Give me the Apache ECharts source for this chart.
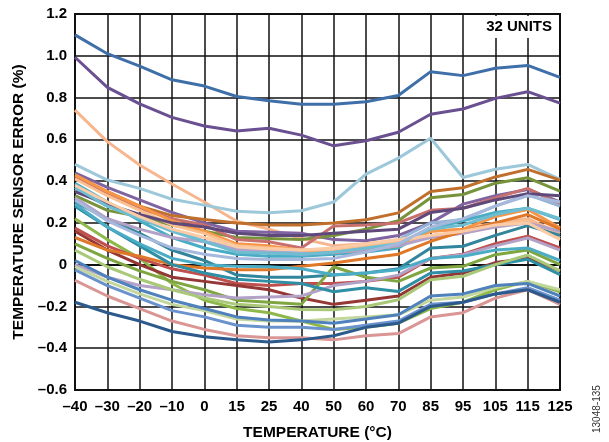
<!DOCTYPE html>
<html>
<head>
<meta charset="utf-8">
<script src="https://cdn.jsdelivr.net/npm/echarts@6/dist/echarts.min.js"></script>
<style>
html,body{margin:0;padding:0;background:#fff;}
#chart{width:609px;height:442px;}
</style>
</head>
<body>
<div id="chart"></div>
<script>
// Temperature categories (°C)
const temperatures = [-40, -30, -20, -10, 0, 15, 25, 40, 50, 60, 70, 85, 95, 105, 115, 125];

// Y-axis ticks (%)
const yTicks = [-0.6, -0.4, -0.2, 0, 0.2, 0.4, 0.6, 0.8, 1.0, 1.2];

// Sensor error (%) per unit
const unit01 = [1.10, 1.01, 0.95, 0.885, 0.855, 0.805, 0.785, 0.768, 0.768, 0.78, 0.81, 0.924, 0.905, 0.94, 0.954, 0.897];
const unit02 = [0.993, 0.849, 0.77, 0.705, 0.664, 0.64, 0.653, 0.62, 0.569, 0.593, 0.634, 0.72, 0.745, 0.796, 0.828, 0.773];
const unit03 = [0.74, 0.589, 0.477, 0.386, 0.30, 0.208, 0.17, 0.125, 0.09, 0.10, 0.11, 0.16, 0.17, 0.20, 0.22, 0.15];
const unit04 = [0.48, 0.405, 0.365, 0.313, 0.285, 0.256, 0.248, 0.258, 0.30, 0.433, 0.51, 0.605, 0.417, 0.457, 0.48, 0.408];
const unit05 = [0.44, 0.37, 0.31, 0.25, 0.20, 0.16, 0.155, 0.15, 0.12, 0.115, 0.14, 0.20, 0.29, 0.33, 0.36, 0.30];
const unit06 = [0.42, 0.35, 0.28, 0.235, 0.216, 0.20, 0.19, 0.19, 0.20, 0.215, 0.248, 0.35, 0.368, 0.42, 0.456, 0.405];
const unit07 = [0.33, 0.26, 0.23, 0.19, 0.16, 0.13, 0.125, 0.12, 0.14, 0.17, 0.21, 0.32, 0.336, 0.39, 0.416, 0.352];
const unit08 = [0.42, 0.34, 0.27, 0.22, 0.19, 0.12, 0.11, 0.08, 0.185, 0.19, 0.20, 0.26, 0.27, 0.32, 0.365, 0.29];
const unit09 = [0.36, 0.28, 0.22, 0.17, 0.112, 0.08, 0.07, 0.06, 0.08, 0.09, 0.12, 0.20, 0.216, 0.28, 0.336, 0.28];
const unit10 = [0.39, 0.30, 0.21, 0.13, 0.08, 0.05, 0.04, 0.04, 0.05, 0.06, 0.08, 0.17, 0.21, 0.25, 0.27, 0.216];
const unit11 = [0.43, 0.35, 0.28, 0.21, 0.16, 0.10, 0.09, 0.07, 0.06, 0.07, 0.09, 0.16, 0.17, 0.23, 0.264, 0.176];
const unit12 = [0.41, 0.33, 0.26, 0.19, 0.15, 0.09, 0.08, 0.07, 0.07, 0.09, 0.11, 0.14, 0.15, 0.19, 0.21, 0.13];
const unit13 = [0.30, 0.22, 0.15, 0.07, 0.02, -0.05, -0.06, -0.06, -0.05, -0.04, -0.02, 0.08, 0.088, 0.14, 0.187, 0.14];
const unit14 = [0.32, 0.22, 0.17, 0.13, 0.11, 0.07, 0.06, 0.05, 0.06, 0.07, 0.09, 0.13, 0.15, 0.18, 0.20, 0.16];
const unit15 = [0.22, 0.12, 0.03, -0.09, -0.17, -0.21, -0.23, -0.27, -0.31, -0.30, -0.28, -0.21, -0.18, -0.12, -0.08, -0.13];
const unit16 = [0.175, 0.09, 0.03, -0.02, -0.05, -0.09, -0.10, -0.09, -0.09, -0.08, -0.06, 0.03, 0.05, 0.10, 0.136, 0.08];
const unit17 = [0.16, 0.07, 0.0, -0.06, -0.08, -0.10, -0.12, -0.16, -0.19, -0.17, -0.15, -0.06, -0.04, 0.01, 0.03, -0.03];
const unit18 = [0.13, 0.07, 0.04, 0.0, -0.016, -0.024, -0.024, -0.008, 0.008, 0.03, 0.05, 0.112, 0.16, 0.20, 0.24, 0.17];
const unit19 = [0.10, 0.03, -0.03, -0.08, -0.12, -0.17, -0.18, -0.19, -0.01, -0.06, -0.08, -0.016, -0.008, 0.048, 0.07, 0.0];
const unit20 = [0.0, -0.06, -0.10, -0.12, -0.144, -0.16, -0.155, -0.15, -0.10, -0.08, -0.05, 0.03, 0.048, 0.09, 0.128, 0.07];
const unit21 = [0.28, 0.18, 0.09, 0.0, -0.04, -0.07, -0.08, -0.09, -0.13, -0.11, -0.128, -0.04, -0.03, 0.0, 0.026, -0.048];
const unit22 = [-0.01, -0.08, -0.14, -0.19, -0.22, -0.26, -0.27, -0.27, -0.26, -0.25, -0.24, -0.17, -0.155, -0.11, -0.08, -0.12];
const unit23 = [0.02, -0.06, -0.12, -0.17, -0.21, -0.25, -0.265, -0.27, -0.28, -0.26, -0.24, -0.15, -0.14, -0.10, -0.09, -0.15];
const unit24 = [-0.025, -0.10, -0.16, -0.22, -0.25, -0.29, -0.30, -0.30, -0.31, -0.29, -0.27, -0.19, -0.18, -0.14, -0.11, -0.17];
const unit25 = [-0.075, -0.15, -0.21, -0.27, -0.31, -0.34, -0.35, -0.35, -0.36, -0.34, -0.33, -0.25, -0.23, -0.16, -0.12, -0.19];
const unit26 = [-0.18, -0.23, -0.27, -0.32, -0.345, -0.36, -0.37, -0.36, -0.34, -0.30, -0.28, -0.20, -0.18, -0.14, -0.12, -0.18];
const unit27 = [0.07, -0.01, -0.07, -0.12, -0.16, -0.19, -0.20, -0.215, -0.216, -0.20, -0.168, -0.072, -0.056, 0.0, 0.046, -0.03];
const unit28 = [0.29, 0.18, 0.10, 0.03, 0.0, -0.008, -0.01, -0.02, -0.048, -0.04, -0.024, 0.03, 0.04, 0.07, 0.08, 0.02];
const unit29 = [0.35, 0.29, 0.24, 0.20, 0.18, 0.15, 0.14, 0.14, 0.15, 0.16, 0.17, 0.25, 0.27, 0.31, 0.34, 0.33];
const unit30 = [0.37, 0.28, 0.22, 0.16, 0.11, 0.06, 0.055, 0.05, 0.06, 0.08, 0.10, 0.17, 0.19, 0.24, 0.27, 0.22];
const unit31 = [0.38, 0.30, 0.23, 0.17, 0.13, 0.085, 0.075, 0.07, 0.08, 0.10, 0.12, 0.14, 0.16, 0.19, 0.20, 0.12];
const unit32 = [0.31, 0.21, 0.14, 0.08, 0.05, 0.03, 0.025, 0.025, 0.03, 0.06, 0.10, 0.18, 0.22, 0.28, 0.33, 0.30];

const units = [unit01, unit02, unit03, unit04, unit05, unit06, unit07, unit08, unit09, unit10,
  unit11, unit12, unit13, unit14, unit15, unit16, unit17, unit18, unit19, unit20,
  unit21, unit22, unit23, unit24, unit25, unit26, unit27, unit28, unit29, unit30, unit31, unit32];

const unitColors = ['#3f6fa8', '#6a5090', '#f7b68e', '#9dc8da', '#8064a2', '#c0702c', '#77933c', '#c8706e',
  '#95b3d7', '#4bacc6', '#f79646', '#fac090', '#31859c', '#b3a2c7', '#8fb84a', '#c0504d',
  '#953735', '#e0782a', '#7fa640', '#b3a2c7', '#2e8fa5', '#c3d69b', '#4f81bd', '#6a92cc',
  '#d99694', '#2c5a8c', '#a9c878', '#4bacc6', '#5f497a', '#6fbdd1', '#fbcba6', '#a6b9dd'];

const fmtNum = v => {
  const r = Math.round(v * 10) / 10;
  if (r === 0) return '0';
  return (r < 0 ? '\u2013' : '') + Math.abs(r).toFixed(1);
};
const fmtCat = v => (Number(v) < 0 ? '\u2013' : '') + Math.abs(Number(v));

const chart = echarts.init(document.getElementById('chart'), null, {renderer: 'canvas'});
const font = 'Liberation Sans, Arial, sans-serif';

chart.setOption({
  animation: false,
  backgroundColor: '#fff',
  grid: {left: 75, right: 49, top: 14, bottom: 52, show: true, borderColor: '#111', borderWidth: 2,
         containLabel: false, outerBoundsMode: 'none'},
  xAxis: {
    type: 'category',
    data: temperatures.map(String),
    boundaryGap: false,
    name: 'TEMPERATURE (\u00b0C)',
    nameLocation: 'middle',
    nameGap: 35,
    nameTextStyle: {fontFamily: font, fontWeight: 'bold', fontSize: 15.5, color: '#000'},
    axisLine: {show: true, lineStyle: {color: '#111', width: 2}},
    axisTick: {show: false},
    axisLabel: {formatter: fmtCat, fontFamily: font, fontWeight: 'bold', fontSize: 15, color: '#000', margin: 9, interval: 0},
    splitLine: {show: true, lineStyle: {color: '#111', width: 1.5}}
  },
  yAxis: {
    type: 'value',
    min: yTicks[0],
    max: yTicks[yTicks.length - 1],
    interval: 0.2,
    name: 'TEMPERATURE SENSOR ERROR (%)',
    nameLocation: 'middle',
    nameGap: 46,
    nameTextStyle: {fontFamily: font, fontWeight: 'bold', fontSize: 15.5, color: '#000'},
    axisLine: {show: true, lineStyle: {color: '#111', width: 2}},
    axisTick: {show: false},
    axisLabel: {formatter: fmtNum, fontFamily: font, fontWeight: 'bold', fontSize: 15, color: '#000', margin: 8},
    splitLine: {show: true, lineStyle: {color: '#111', width: 1.5}}
  },
  series: units.map((d, i) => ({
    type: 'line',
    data: d,
    symbol: 'none',
    smooth: false,
    lineStyle: {color: unitColors[i], width: 3},
    z: 3
  })),
  graphic: [
    {type: 'rect', x: 478, y: 16, shape: {width: 80, height: 22}, style: {fill: '#fff'}, z: 10},
    {type: 'text', x: 552, y: 27, style: {text: '32 UNITS', font: 'bold 15px ' + font, fill: '#000', textAlign: 'right', textVerticalAlign: 'middle'}, z: 11},
    {type: 'text', x: 597, y: 433, rotation: Math.PI / 2, style: {text: '13048-135', font: '10px ' + font, fill: '#333', textAlign: 'left', textVerticalAlign: 'middle'}, z: 11}
  ]
});
</script>
</body>
</html>
